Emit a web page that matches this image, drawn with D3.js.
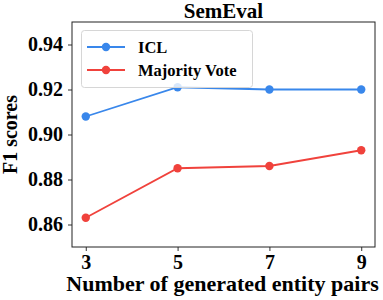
<!DOCTYPE html>
<html>
<head>
<meta charset="utf-8">
<script src="https://cdn.jsdelivr.net/npm/d3@7"></script>
<style>
  body { margin: 0; background: #fff; }
  text { font-family: "Liberation Serif", "Times New Roman", serif; font-weight: bold; }
</style>
</head>
<body>
<div class="js-container"></div>
<script>
;(function() {
  'use strict';

  var pairs = [3, 5, 7, 9];
  var icl = [0.908, 0.921, 0.920, 0.920];
  var majority = [0.863, 0.885, 0.886, 0.893];
  var yTicks = [0.86, 0.88, 0.90, 0.92, 0.94];
  var seriesNames = ['ICL', 'Majority Vote'];
  var seriesColors = ['#3987eb', '#f0423c'];

  var W = 383, H = 300;
  var margin = {top: 22, right: 8, bottom: 53, left: 72};

  var svg = d3.select('.js-container').append('svg')
      .attr('width', W)
      .attr('height', H);

  var x = d3.scaleLinear().domain([2.7, 9.3]).range([margin.left, W - margin.right]);
  var y = d3.scaleLinear().domain([0.85, 0.95]).range([H - margin.bottom, margin.top]);

  // axes
  var xAxis = svg.append('g')
      .attr('transform', 'translate(0,' + (H - margin.bottom) + ')')
      .call(d3.axisBottom(x).tickValues(pairs).tickFormat(d3.format('d'))
        .tickSize(4).tickPadding(4).tickSizeOuter(0));

  var yAxis = svg.append('g')
      .attr('transform', 'translate(' + margin.left + ',0)')
      .call(d3.axisLeft(y).tickValues(yTicks).tickFormat(d3.format('.2f'))
        .tickSize(4).tickPadding(5).tickSizeOuter(0));

  [xAxis, yAxis].forEach(function(a) {
    a.select('.domain').remove();
    a.selectAll('.tick line').attr('stroke', '#333');
    a.selectAll('.tick text').attr('fill', '#000').style('font-size', '20px');
  });

  // frame
  svg.append('rect')
      .attr('x', margin.left)
      .attr('y', margin.top)
      .attr('width', W - margin.left - margin.right)
      .attr('height', H - margin.top - margin.bottom)
      .attr('fill', 'none')
      .attr('stroke', '#222')
      .attr('stroke-width', 1);

  // lines
  var data = [icl, majority];
  var line = d3.line()
      .x(function(d, i) { return x(pairs[i]); })
      .y(function(d) { return y(d); });

  data.forEach(function(vals, s) {
    svg.append('path')
        .datum(vals)
        .attr('fill', 'none')
        .attr('stroke', seriesColors[s])
        .attr('stroke-width', 1.8)
        .attr('d', line);

    svg.selectAll('.pt-' + s)
        .data(vals)
        .enter().append('circle')
        .attr('cx', function(d, i) { return x(pairs[i]); })
        .attr('cy', function(d) { return y(d); })
        .attr('r', 4.2)
        .attr('fill', seriesColors[s]);
  });

  // legend
  var lg = svg.append('g');
  lg.append('rect')
      .attr('x', 81.5).attr('y', 30.5)
      .attr('width', 171).attr('height', 57)
      .attr('rx', 3)
      .attr('fill', 'rgba(255,255,255,0.8)')
      .attr('stroke', '#d6d6d6');

  seriesNames.forEach(function(name, s) {
    var ly = 47 + s * 23;
    lg.append('line')
        .attr('x1', 87).attr('x2', 125)
        .attr('y1', ly).attr('y2', ly)
        .attr('stroke', seriesColors[s])
        .attr('stroke-width', 1.8);
    lg.append('circle')
        .attr('cx', 106).attr('cy', ly).attr('r', 4.2)
        .attr('fill', seriesColors[s]);
    lg.append('text')
        .attr('x', 138).attr('y', ly)
        .attr('dy', '0.35em')
        .style('font-size', '16.5px')
        .text(name);
  });

  // titles
  svg.append('text')
      .attr('x', (margin.left + W - margin.right) / 2)
      .attr('y', 18)
      .attr('text-anchor', 'middle')
      .style('font-size', '21px')
      .text('SemEval');

  svg.append('text')
      .attr('x', (margin.left + W - margin.right) / 2 - 1)
      .attr('y', 291)
      .attr('text-anchor', 'middle')
      .style('font-size', '22px')
      .text('Number of generated entity pairs');

  svg.append('text')
      .attr('transform', 'translate(17,' + ((margin.top + H - margin.bottom) / 2) + ') rotate(-90)')
      .attr('text-anchor', 'middle')
      .style('font-size', '20px')
      .text('F1 scores');

}());
</script>
</body>
</html>
